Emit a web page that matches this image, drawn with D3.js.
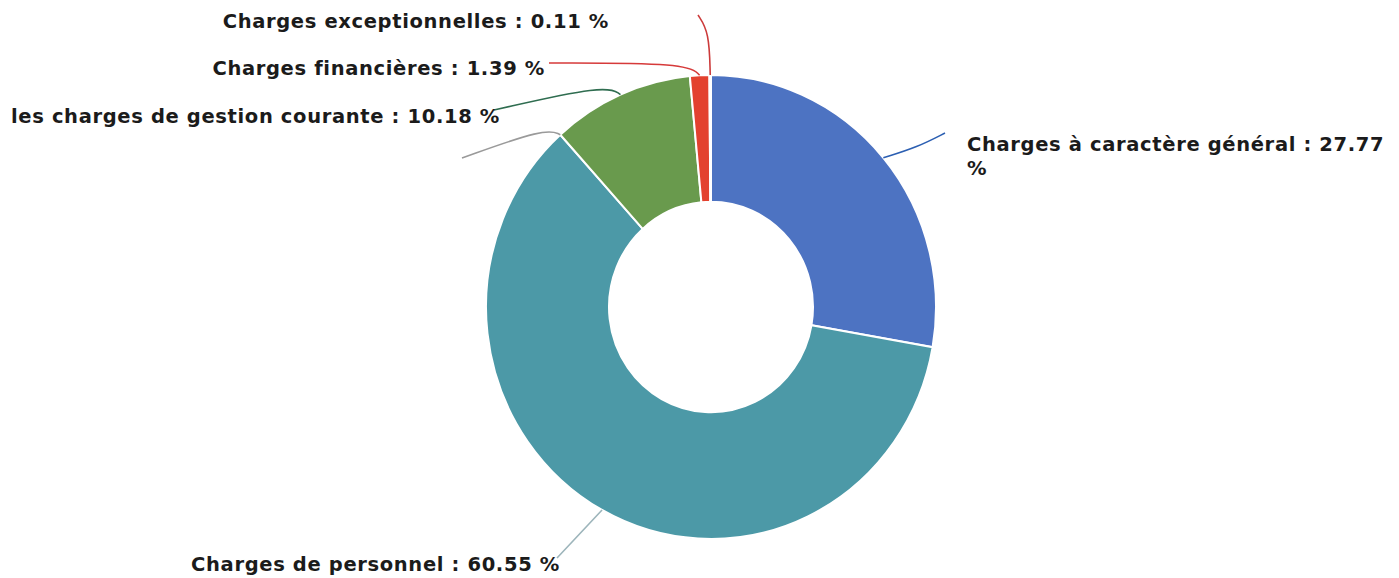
<!DOCTYPE html>
<html>
<head>
<meta charset="utf-8">
<script src="https://cdn.jsdelivr.net/npm/d3@7"></script>
<style>
  html, body { margin: 0; padding: 0; background: #ffffff; }
  svg { display: block; }
  text { font-family: "DejaVu Sans", Verdana, sans-serif; font-weight: bold; fill: #1b1b1b; }
</style>
</head>
<body>
<svg id="chart" width="1399" height="578"></svg>
<script>
// Répartition des charges (en %)
const categories = [
  "Charges à caractère général",
  "Charges de personnel",
  "les charges de gestion courante",
  "Charges financières",
  "Charges exceptionnelles"
];
const values = [27.77, 60.55, 10.18, 1.39, 0.11];
const sliceColors = ["#4d73c2", "#4c99a7", "#699a4d", "#e3412f", "#c93a3a"];
const lineColors  = ["#2c5fb2", "#9db5bb", "#2f6d50", "#d63a3a", "#cc3b3b"];

// label placement: end point of the leader, radial elbow length, bend of the leader,
// text anchor and baseline
const labelLayout = [
  { ex: 945, ey: 133, elbow: 0,  bend: [4, 2], tx: 967, ty: 151, anchor: "start", lines: 2 },
  { ex: 557, ey: 558, elbow: 0,  bend: [0, 0], tx: 560, ty: 571, anchor: "end",   lines: 1 },
  { ex: 494, ey: 110, elbow: 14, bend: null,   tx: 500, ty: 123, anchor: "end",   lines: 1 },
  { ex: 549, ey: 63,  elbow: 13, bend: null,   tx: 545, ty: 75,  anchor: "end",   lines: 1 },
  { ex: 698, ey: 15,  elbow: 44, bend: null,   tx: 609, ty: 28,  anchor: "end",   lines: 1 }
];

const svg = d3.select("#chart");
const cx = 711, cy = 307;
const rOuter = 225, rInner = 102, ky = 232 / 225;

const pie = d3.pie().sort(null).value(d => d)(values);
const arc = d3.arc().innerRadius(rInner).outerRadius(rOuter);

const donut = svg.append("g")
  .attr("transform", `translate(${cx},${cy}) scale(1,${ky})`);

donut.selectAll("path")
  .data(pie)
  .join("path")
  .attr("d", arc)
  .attr("fill", (d, i) => sliceColors[i])
  .attr("stroke", "#ffffff")
  .attr("stroke-width", 2)
  .attr("vector-effect", "non-scaling-stroke");

// point on the (slightly stretched) ring at a given angle and radius
const ringPoint = (a, r) => [cx + r * Math.sin(a), cy - r * ky * Math.cos(a)];

const line = d3.line().curve(d3.curveBundle.beta(0.85));

const leaders = svg.append("g").attr("fill", "none").attr("stroke-width", 1.6);

pie.forEach((d, i) => {
  const L = labelLayout[i];
  const mid = (d.startAngle + d.endAngle) / 2;
  const p0 = ringPoint(mid, rOuter);
  const pts = [p0];
  if (L.elbow > 0) pts.push(ringPoint(mid, rOuter + L.elbow));
  else pts.push([(p0[0] + L.ex) / 2 + L.bend[0], (p0[1] + L.ey) / 2 + L.bend[1]]);
  pts.push([L.ex, L.ey]);
  leaders.append("path")
    .attr("d", line(pts))
    .attr("stroke", lineColors[i]);
});

// extra grey guide at the personnel / gestion courante boundary
{
  const a = pie[1].endAngle;
  const pts = [ringPoint(a, rOuter), ringPoint(a, rOuter + 13), [462, 158]];
  leaders.append("path")
    .attr("d", line(pts))
    .attr("stroke", "#9a9a9a");
}

// labels
const labels = svg.append("g")
  .style("font-size", "19.5px")
  .style("letter-spacing", "0.65px");
pie.forEach((d, i) => {
  const L = labelLayout[i];
  const full = `${categories[i]} : ${values[i].toFixed(2)} %`;
  const t = labels.append("text")
    .attr("x", L.tx)
    .attr("y", L.ty)
    .attr("text-anchor", L.anchor);
  if (L.lines === 2) {
    t.append("tspan").attr("x", L.tx).text(`${categories[i]} : ${values[i].toFixed(2)}`);
    t.append("tspan").attr("x", L.tx).attr("dy", 24).text("%");
  } else {
    t.text(full);
  }
});
</script>
</body>
</html>
